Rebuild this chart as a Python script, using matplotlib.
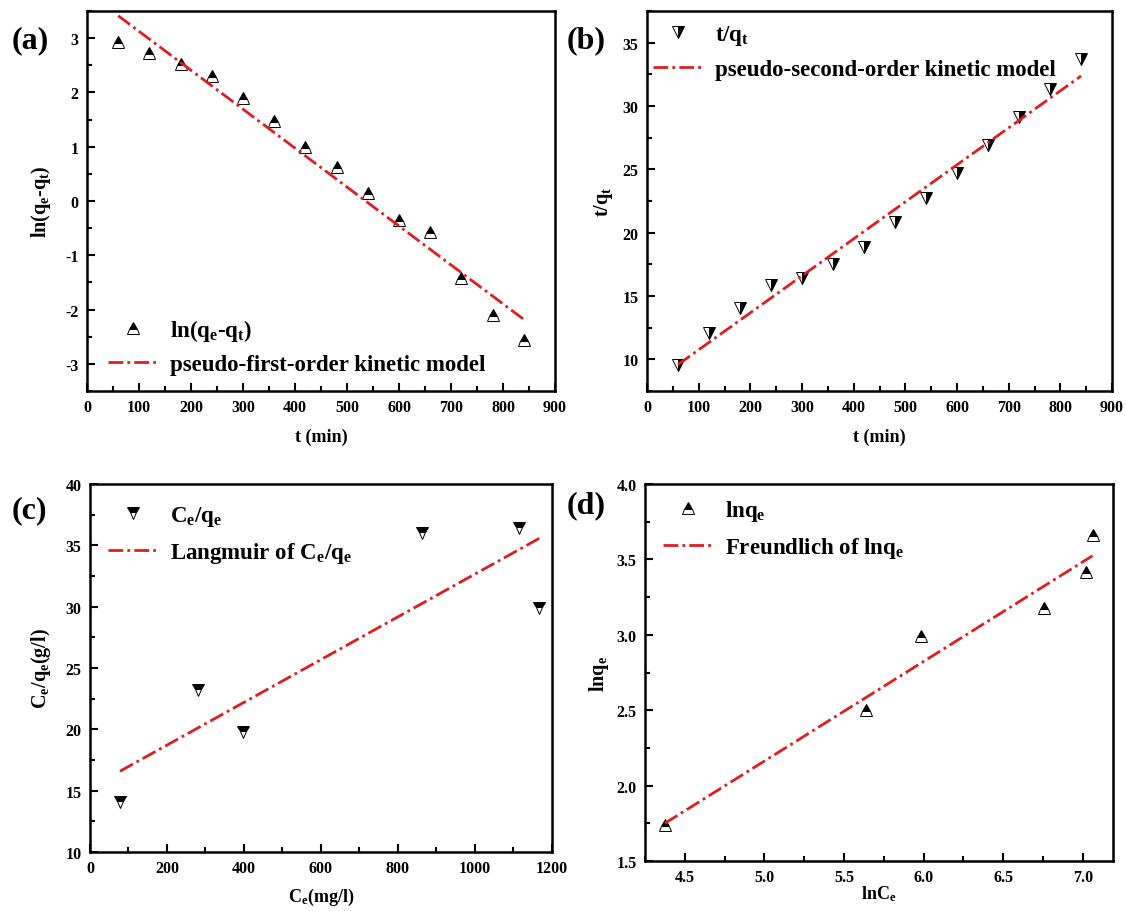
import matplotlib
matplotlib.use('Agg')
import matplotlib.pyplot as plt
from matplotlib.ticker import MultipleLocator, FormatStrFormatter
import numpy as np

# ---- data ----
t_min = [60, 120, 180, 240, 300, 360, 420, 480, 540, 600, 660, 720, 780, 840]
ln_qe_qt = [2.93, 2.72, 2.52, 2.30, 1.90, 1.48, 1.00, 0.62, 0.15, -0.35,
            -0.58, -1.42, -2.10, -2.57]
t_over_qt = [9.55, 12.05, 14.07, 15.9, 16.4, 17.5, 18.9, 20.8, 22.7, 24.7,
             26.95, 29.1, 31.3, 33.7]

ce = [78, 281, 397, 863, 1115, 1167]
ce_over_qe = [14.06, 23.2, 19.8, 36.0, 36.4, 29.9]

ln_ce = [4.375, 5.64, 5.985, 6.758, 7.02, 7.062]
ln_qe = [1.739, 2.503, 2.994, 3.176, 3.419, 3.662]

# ---- style ----
plt.rcParams['font.family'] = ['Liberation Serif', 'DejaVu Serif']
plt.rcParams['font.weight'] = 'bold'
plt.rcParams['axes.labelweight'] = 'bold'
plt.rcParams['axes.unicode_minus'] = False
plt.rcParams['mathtext.fontset'] = 'custom'
plt.rcParams['mathtext.rm'] = 'Liberation Serif:bold'
plt.rcParams['mathtext.it'] = 'Liberation Serif:bold'
plt.rcParams['mathtext.bf'] = 'Liberation Serif:bold'

RED = '#dc1e1e'
DASH = (0, (5.3, 1.5, 1.0, 1.5))
TICK_FS = 11.5
XLAB_FS = 13
YLAB_FS = 14.5
LEG_FS = 16.5


def fit_line(x, y):
    k, b = np.polyfit(x, y, 1)
    xs = np.array([min(x), max(x)])
    return xs, k * xs + b


def style_axes(ax, xmaj, xmin, ymaj, ymin):
    for s in ax.spines.values():
        s.set_linewidth(1.8)
    ax.xaxis.set_major_locator(MultipleLocator(xmaj))
    ax.xaxis.set_minor_locator(MultipleLocator(xmin))
    ax.yaxis.set_major_locator(MultipleLocator(ymaj))
    ax.yaxis.set_minor_locator(MultipleLocator(ymin))
    ax.tick_params(which='major', direction='in', length=6, width=1.5,
                   labelsize=TICK_FS, pad=6)
    ax.tick_params(which='minor', direction='in', length=3.5, width=1.5)
    ax.tick_params(which='both', top=False, right=False)
    for lab in ax.get_xticklabels() + ax.get_yticklabels():
        lab.set_fontweight('bold')


def add_legend(ax, anchor):
    ax.legend(loc='upper left', bbox_to_anchor=anchor, frameon=False,
              fontsize=LEG_FS, handlelength=2.2, handletextpad=0.5,
              labelspacing=0.5, borderpad=0, borderaxespad=0)


fig = plt.figure(figsize=(11.26, 9.12), dpi=100)
ax_a = fig.add_axes([0.0773, 0.5702, 0.4156, 0.4167])
ax_b = fig.add_axes([0.5746, 0.5702, 0.4130, 0.4167])
ax_c = fig.add_axes([0.0799, 0.0647, 0.4103, 0.4035])
ax_d = fig.add_axes([0.5728, 0.0548, 0.4156, 0.4134])

# (a) pseudo-first-order
ax_a.plot(t_min, ln_qe_qt, ls='none', marker='^', ms=8.5, fillstyle='top',
          mfc='black', mfcalt='white', mec='black', mew=0.7,
          label=r'ln(q$_{\rm e}$-q$_{\rm t}$)')
fx, fy = fit_line(t_min, ln_qe_qt)
ax_a.plot(fx, fy, color=RED, lw=2, ls=DASH,
          label='pseudo-first-order kinetic model')
ax_a.set_xlim(0, 900)
ax_a.set_ylim(-3.5, 3.5)
style_axes(ax_a, 100, 50, 1, 0.5)
ax_a.set_xlabel('t (min)', fontsize=XLAB_FS)
ax_a.set_ylabel(r'ln(q$_{\rm e}$-q$_{\rm t}$)', fontsize=YLAB_FS)
ax_a.xaxis.set_label_coords(0.5, -0.096)
ax_a.yaxis.set_label_coords(-0.073, 0.5)
add_legend(ax_a, (0.044, 0.195))

# (b) pseudo-second-order
ax_b.plot(t_min, t_over_qt, ls='none', marker='v', ms=8, fillstyle='right',
          mfc='black', mfcalt='white', mec='black', mew=0.7,
          label=r't/q$_{\rm t}$')
fx, fy = fit_line(t_min, t_over_qt)
ax_b.plot(fx, fy, color=RED, lw=2, ls=DASH,
          label='pseudo-second-order kinetic model')
ax_b.set_xlim(0, 900)
ax_b.set_ylim(7.5, 37.5)
style_axes(ax_b, 100, 50, 5, 2.5)
ax_b.set_xlabel('t (min)', fontsize=XLAB_FS)
ax_b.set_ylabel(r't/q$_{\rm t}$', fontsize=YLAB_FS)
ax_b.xaxis.set_label_coords(0.5, -0.096)
ax_b.yaxis.set_label_coords(-0.069, 0.5)
add_legend(ax_b, (0.013, 0.968))

# (c) Langmuir
ax_c.plot(ce, ce_over_qe, ls='none', marker='v', ms=8, fillstyle='top',
          mfc='black', mfcalt='white', mec='black', mew=0.7,
          label=r'C$_{\rm e}$/q$_{\rm e}$')
fx, fy = fit_line(ce, ce_over_qe)
ax_c.plot(fx, fy, color=RED, lw=2, ls=DASH,
          label=r'Langmuir of C$_{\rm e}$/q$_{\rm e}$')
ax_c.set_xlim(0, 1200)
ax_c.set_ylim(10, 40)
style_axes(ax_c, 200, 100, 5, 2.5)
ax_c.set_xlabel(r'C$_{\rm e}$(mg/l)', fontsize=XLAB_FS)
ax_c.set_ylabel(r'C$_{\rm e}$/q$_{\rm e}$(g/l)', fontsize=YLAB_FS)
ax_c.xaxis.set_label_coords(0.5, -0.092)
ax_c.yaxis.set_label_coords(-0.08, 0.5)
add_legend(ax_c, (0.039, 0.945))

# (d) Freundlich
ax_d.plot(ln_ce, ln_qe, ls='none', marker='^', ms=8.5, fillstyle='top',
          mfc='black', mfcalt='white', mec='black', mew=0.7,
          label=r'lnq$_{\rm e}$')
fx, fy = fit_line(ln_ce, ln_qe)
ax_d.plot(fx, fy, color=RED, lw=2, ls=DASH,
          label=r'Freundlich of lnq$_{\rm e}$')
ax_d.set_xlim(4.25, 7.19)
ax_d.set_ylim(1.5, 4.0)
style_axes(ax_d, 0.5, 0.25, 0.5, 0.25)
ax_d.xaxis.set_major_formatter(FormatStrFormatter('%.1f'))
ax_d.yaxis.set_major_formatter(FormatStrFormatter('%.1f'))
ax_d.set_xlabel(r'lnC$_{\rm e}$', fontsize=XLAB_FS)
ax_d.set_ylabel(r'lnq$_{\rm e}$', fontsize=YLAB_FS)
ax_d.xaxis.set_label_coords(0.5, -0.058)
ax_d.yaxis.set_label_coords(-0.073, 0.5)
add_legend(ax_d, (0.038, 0.962))

# panel letters
for txt, x, y in [('(a)', 0.010, 0.955), ('(b)', 0.503, 0.955),
                  ('(c)', 0.010, 0.440), ('(d)', 0.503, 0.445)]:
    fig.text(x, y, txt, fontsize=23, fontweight='bold', va='center')

fig.savefig('out.png', dpi=100)
